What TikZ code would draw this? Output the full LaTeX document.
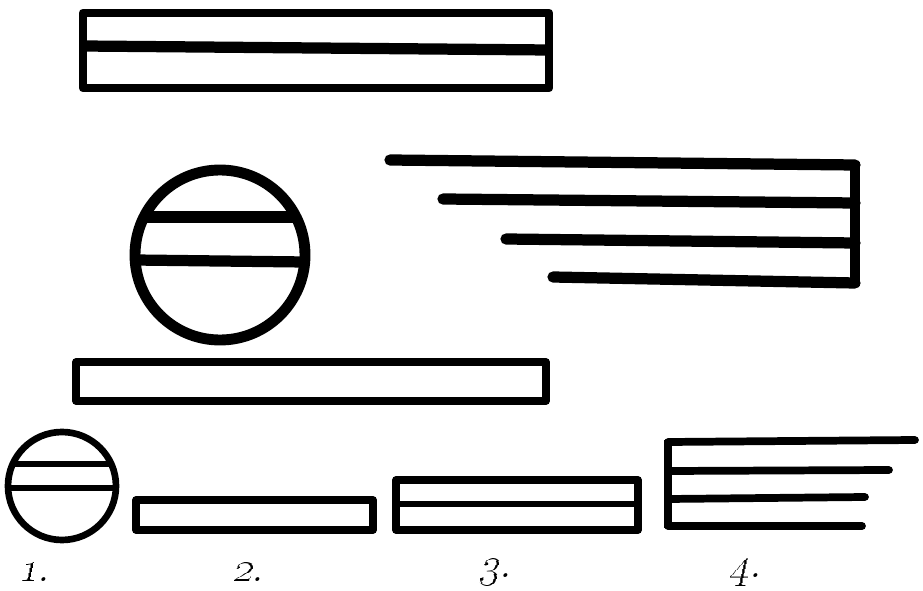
\documentclass[tikz,border=0pt]{standalone}
\usepackage{tikz}
\tikzset{
  heavy/.style={line width=5pt, line cap=round, line join=round},
  bar/.style={line width=6.4pt, line cap=round},
  thin/.style={line width=4.2pt, line join=round},
  numlab/.style={font=\fontsize{27}{30}\selectfont, xslant=0.22}
}
\begin{document}
\begin{tikzpicture}[x=0.02cm, y=-0.02cm]
  \useasboundingbox (0,0) rectangle (923,591);
  % top double box
  \draw[heavy] (83,13) rectangle (549,88);
  \draw[line width=6.4pt] (83,46) -- (549,50);
  % large circle
  \coordinate (bigc) at (220,255);
  \draw[line width=6.2pt] (bigc) circle (85);
  \draw[bar, line cap=butt] (143,217) -- (297,217);
  \draw[bar, line cap=butt] (135,260) -- (305,262);
  % comb
  \draw[bar] (390,160) -- (855,165);
  \draw[bar] (443,199) -- (855,203);
  \draw[bar] (506,239) -- (855,243);
  \draw[bar] (553,277) -- (855,283);
  \draw[line width=6.2pt] (855,162) -- (855,286);
  % long box
  \draw[thin] (76,362) rectangle (546,401);
  % row of small figures
  \coordinate (smc) at (62,486);
  \draw[line width=3.8pt] (smc) circle (54);
  \draw[line width=3.4pt] (13,464) -- (111,464);
  \draw[line width=3.4pt] (8,488) -- (116,488);
  \draw[thin] (136,500) rectangle (373,530);
  \draw[thin] (396,480) rectangle (638,530);
  \draw[line width=3.8pt] (396,504) -- (638,504);
  \draw[line width=4.4pt, line cap=round] (668,442) -- (915,440);
  \draw[line width=4.4pt, line cap=round] (668,471) -- (889,470);
  \draw[line width=4.4pt, line cap=round] (668,499) -- (865,497);
  \draw[line width=4.4pt, line cap=round] (668,526) -- (862,526);
  \draw[line width=4.4pt] (668,440) -- (668,528);
  % labels
  \node[numlab] (n1) at (36,572) {\oldstylenums{1}.};
  \node[numlab] (n2) at (250,572) {\oldstylenums{2}.};
  \node[numlab] (n3) at (497,572) {\oldstylenums{3}.};
  \node[numlab] (n4) at (747,572) {\oldstylenums{4}.};
\end{tikzpicture}
\end{document}
